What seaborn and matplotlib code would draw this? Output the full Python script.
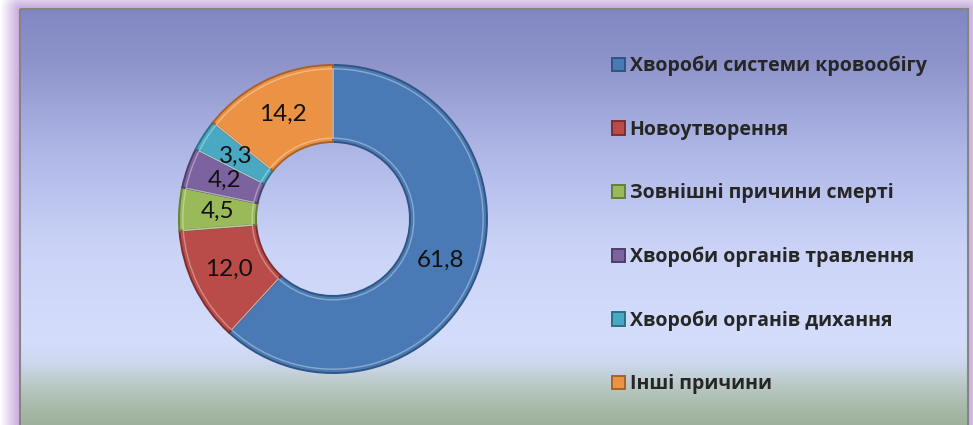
import numpy as np
import matplotlib
matplotlib.use("Agg")
import matplotlib.pyplot as plt
from matplotlib.colors import to_rgb
from matplotlib.patches import Rectangle
import seaborn as sns

# дані
causes = [
    "Хвороби системи кровообігу",
    "Новоутворення",
    "Зовнішні причини смерті",
    "Хвороби органів травлення",
    "Хвороби органів дихання",
    "Інші причини",
]
shares = [61.8, 12.0, 4.5, 4.2, 3.3, 14.2]
colors = ["#4a7ab5", "#b94b48", "#9aba59", "#7d62a0", "#49a9c3", "#ec9244"]
edge_colors = ["#2f5582", "#7d2f2d", "#66803a", "#4f3d6a", "#2c7186", "#a8612a"]

sns.set_style("white")
plt.rcParams["font.family"] = ["Lato", "DejaVu Sans"]

W, H = 973, 425
fig = plt.figure(figsize=(W / 100, H / 100), dpi=100)

# фон: рамка з градієнтом і бузкова тінь навколо
bg = fig.add_axes([0, 0, 1, 1])
bg.set_xlim(0, W)
bg.set_ylim(H, 0)
bg.axis("off")
x0, x1, y0, y1 = 20, 968, 9, 440
yy, xx = np.mgrid[0:H, 0:W] + 0.5
stops_y = [9, 60, 150, 250, 340, 362, 385, 405, 425]
stops_c = ["#8187c3", "#8d93ca", "#aeb6e6", "#cbd4f7", "#d4ddfb", "#cdd8ef",
           "#bac9c6", "#a9bbab", "#9db19d"]
stops_rgb = np.array([to_rgb(c) for c in stops_c])
grad = np.stack([np.interp(yy[:, 0], stops_y, stops_rgb[:, k]) for k in range(3)], axis=-1)
img = np.repeat(grad[:, None, :], W, axis=1)
dx = np.maximum(np.maximum(x0 - xx, xx - x1), 0)
dy = np.maximum(np.maximum(y0 - yy, yy - y1), 0)
dist = np.sqrt(dx ** 2 + dy ** 2)
outside = (xx < x0) | (xx > x1) | (yy < y0) | (yy > y1)
lav = np.array(to_rgb("#c7a9dd"))
t = np.clip(dist / 20.0, 0, 1)[..., None]
glow = lav * (1 - t) + np.ones(3) * t
img[outside] = glow[outside]
bg.imshow(img, extent=[0, W, H, 0], aspect="auto", interpolation="bilinear")
bg.add_patch(Rectangle((x0, y0), x1 - x0, y1 - y0, fill=False, ec="#858585", lw=1.5))

# кільцева діаграма
cx, cy, r = 333, 219, 154
ax = fig.add_axes([(cx - r) / W, (H - cy - r) / H, 2 * r / W, 2 * r / H])

wedges, _, pct_texts = ax.pie(
    shares,
    colors=colors,
    startangle=90,
    counterclock=False,
    radius=1,
    autopct=lambda p: f"{p:.1f}".replace(".", ","),
    pctdistance=0.75,
    wedgeprops=dict(width=0.5, linewidth=1.4),
    textprops=dict(fontsize=17.5, color="#111111"),
)
for w, ec in zip(wedges, edge_colors):
    w.set_edgecolor(ec)

# легкий відблиск по краях сегментів
ax.pie(
    shares,
    colors=["none"] * len(shares),
    startangle=90,
    counterclock=False,
    radius=0.975,
    wedgeprops=dict(width=0.45, linewidth=1.0, edgecolor=(1, 1, 1, 0.35)),
)
ax.set_xlim(-1, 1)
ax.set_ylim(-1, 1)
ax.axis("off")

leg = fig.legend(
    wedges,
    causes,
    loc="upper left",
    bbox_to_anchor=(612 / W, 1 - 56 / H),
    frameon=False,
    handlelength=0.68,
    handleheight=0.68,
    handletextpad=0.22,
    labelspacing=2.23,
    borderpad=0,
    borderaxespad=0,
    prop=dict(family=["Open Sans", "DejaVu Sans"], size=14, weight="bold"),
)

fig.savefig("out.png", dpi=100)
